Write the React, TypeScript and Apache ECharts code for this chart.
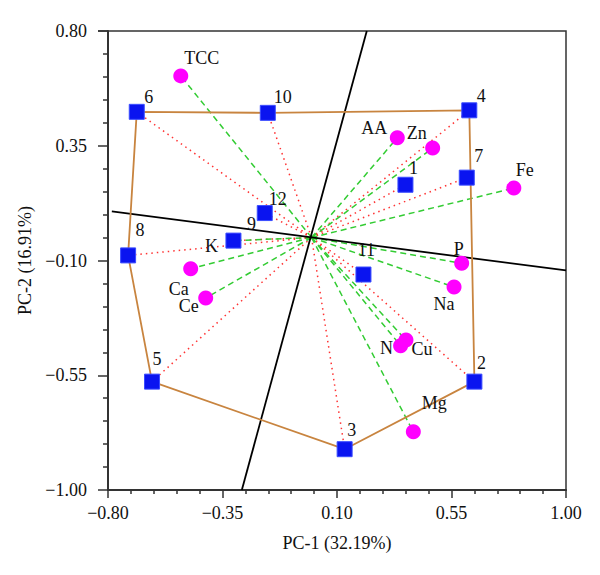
import React, { useEffect, useRef } from "react";
import * as echarts from "echarts";

// Variable loadings (magenta circles)
const loadingNames = ["TCC", "AA", "Zn", "Fe", "P", "Na", "N", "Cu", "Mg", "Ca", "Ce", "K"];
const loadingX = [-0.514, 0.337, 0.476, 0.795, 0.59, 0.56, 0.35, 0.371, 0.4, -0.475, -0.416, -0.307];
const loadingY = [0.624, 0.381, 0.341, 0.184, -0.111, -0.204, -0.434, -0.412, -0.772, -0.132, -0.247, -0.022];

// Observation scores (blue squares)
const obsNames = ["1", "2", "3", "4", "5", "6", "7", "8", "9", "10", "11", "12"];
const obsX = [0.369, 0.64, 0.13, 0.62, -0.627, -0.687, 0.61, -0.721, -0.307, -0.172, 0.204, -0.184];
const obsY = [0.197, -0.575, -0.84, 0.489, -0.575, 0.483, 0.225, -0.08, -0.022, 0.479, -0.155, 0.086];

// Convex hull around the observations
const hullOrder = ["6", "10", "4", "2", "3", "5", "8", "6"];

// Origin of vectors and the two black reference lines
const origin = [0, -0.01];
const refLine1 = [[-0.785, 0.0925], [1.0, -0.139]];
const refLine2 = [[0.217, 0.8], [-0.274, -1.0]];

// Axis ticks
const xTicks = [-0.8, -0.35, 0.1, 0.55, 1.0];
const yTicks = [-1.0, -0.55, -0.1, 0.35, 0.8];

// Label offsets (style only)
const loadingLabelOffset: Record<string, number[]> = {
  TCC: [21, -18], AA: [-23, -10], Zn: [-16, -15], Fe: [11, -18], P: [-3, -14], Na: [-10, 17],
  N: [-14, 2], Cu: [16, 9], Mg: [21, -29], Ca: [-12, 20], Ce: [-17, 8], K: [-22, 5],
};
const obsLabelOffset: Record<string, number[]> = {
  "1": [8, -17], "2": [7, -19], "3": [7, -19], "4": [12, -14], "5": [5, -23], "6": [12, -15],
  "7": [12, -22], "8": [12, -25], "9": [18, -17], "10": [15, -16], "11": [3, -25], "12": [13, -14],
};

const FONT = "Liberation Serif, Times New Roman, serif";
const fmt = (v: number) => v.toFixed(2).replace("-", "\u2212");

export default function App() {
  const ref = useRef<HTMLDivElement>(null);
  useEffect(() => {
    if (!ref.current) return;
    const chart = echarts.init(ref.current, undefined, { renderer: "svg" });

    const loadingData = loadingNames.map((n, i) => ({
      name: n,
      value: [loadingX[i], loadingY[i]],
      label: { offset: loadingLabelOffset[n] },
    }));
    const obsData = obsNames.map((n, i) => ({
      name: n,
      value: [obsX[i], obsY[i]],
      label: { offset: obsLabelOffset[n] },
    }));
    const hullData = hullOrder.map((n) => {
      const i = obsNames.indexOf(n);
      return [obsX[i], obsY[i]];
    });

    const labelBase = {
      show: true,
      position: "inside",
      formatter: "{b}",
      color: "#111",
      fontFamily: FONT,
      fontSize: 18,
      align: "center",
      verticalAlign: "middle",
    };

    const axisCommon = {
      axisLine: { onZero: false, lineStyle: { color: "#333", width: 2 } },
      splitLine: { show: false },
      minorTick: { show: true, splitNumber: 5, lineStyle: { color: "#333", width: 1.5 } },
      axisLabel: { fontFamily: FONT, fontSize: 18, color: "#111", formatter: fmt },
      nameTextStyle: { fontFamily: FONT, fontSize: 18, color: "#111" },
      nameLocation: "middle",
    };

    chart.setOption({
      animation: false,
      grid: {
        left: 108, right: 34, top: 31, bottom: 85,
        show: true, borderColor: "#333", borderWidth: 1.5, backgroundColor: "transparent",
      },
      xAxis: {
        ...axisCommon,
        type: "value",
        min: xTicks[0],
        max: xTicks[xTicks.length - 1],
        interval: xTicks[1] - xTicks[0],
        name: "PC-1 (32.19%)",
        nameGap: 44,
        axisTick: { inside: false, length: 8, lineStyle: { color: "#333", width: 1.5 } },
        minorTick: { ...axisCommon.minorTick, length: 4 },
        axisLabel: { ...axisCommon.axisLabel, margin: 14 },
      },
      yAxis: {
        ...axisCommon,
        type: "value",
        min: yTicks[0],
        max: yTicks[yTicks.length - 1],
        interval: yTicks[1] - yTicks[0],
        name: "PC-2 (16.91%)",
        nameGap: 70,
        axisTick: { inside: false, length: 10, lineStyle: { color: "#333", width: 1.5 } },
        minorTick: { ...axisCommon.minorTick, length: 5 },
        axisLabel: { ...axisCommon.axisLabel, margin: 21 },
      },
      series: [
        {
          type: "lines",
          coordinateSystem: "cartesian2d",
          silent: true,
          z: 2,
          lineStyle: { color: "#ff3333", width: 1.5, type: [1.5, 4], opacity: 1 },
          data: obsNames.map((_, i) => ({ coords: [origin, [obsX[i], obsY[i]]] })),
        },
        {
          type: "lines",
          coordinateSystem: "cartesian2d",
          silent: true,
          z: 2,
          lineStyle: { color: "#33cc33", width: 1.5, type: [6, 4], opacity: 1 },
          data: loadingNames.map((_, i) => ({ coords: [origin, [loadingX[i], loadingY[i]]] })),
        },
        {
          type: "lines",
          coordinateSystem: "cartesian2d",
          silent: true,
          z: 3,
          lineStyle: { color: "#000", width: 1.8, type: "solid", opacity: 1 },
          data: [{ coords: refLine1 }, { coords: refLine2 }],
        },
        {
          type: "line",
          z: 4,
          symbol: "none",
          silent: true,
          lineStyle: { color: "#c8843f", width: 1.8 },
          data: hullData,
        },
        {
          type: "scatter",
          z: 5,
          symbol: "circle",
          symbolSize: 15,
          itemStyle: { color: "#ff00ff", opacity: 1 },
          label: labelBase,
          data: loadingData,
        },
        {
          type: "scatter",
          z: 6,
          symbol: "rect",
          symbolSize: 15,
          itemStyle: { color: "#0a14f0", borderColor: "#3a4cff", borderWidth: 1, opacity: 1 },
          label: labelBase,
          data: obsData,
        },
      ],
    });
    return () => chart.dispose();
  }, []);
  return (
    <div
      ref={ref}
      style={{ position: "absolute", left: 0, top: 0, width: 600, height: 575, background: "#fff" }}
    />
  );
}
